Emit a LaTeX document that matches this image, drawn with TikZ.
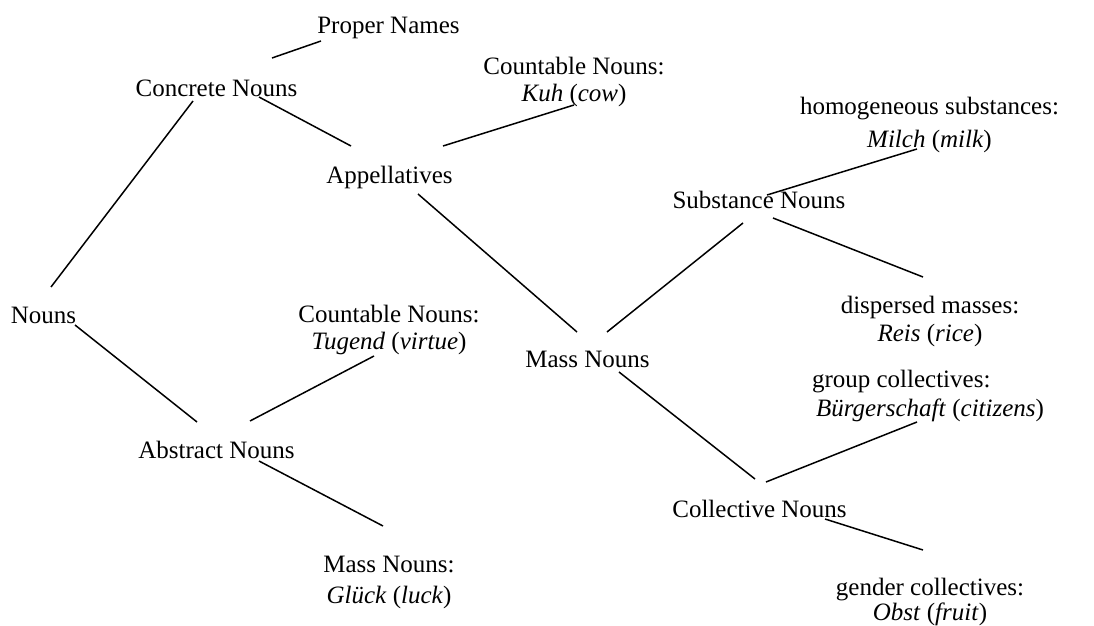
\documentclass[tikz,border=0pt]{standalone}
\usepackage{fontspec}
\setmainfont{Liberation Serif}
\begin{document}
\begin{tikzpicture}[x=0.5pt,y=-0.5pt,
  lbl/.style={anchor=base,inner sep=0pt,align=center,font=\fontsize{12.5pt}{13.5pt}\selectfont},
  conn/.style={line width=0.75pt,black}]
\useasboundingbox (0,0) rectangle (1094,626);
% nodes (multi-line labels are placed at the baseline of their last line)
\node[lbl] (proper) at (388.5,34) {Proper Names};
\node[lbl] (concrete) at (216.5,97) {Concrete Nouns};
\node[lbl] (appell) at (389.5,184) {Appellatives};
\node[lbl] (kuh) at (574,101.5) {Countable Nouns:\\ \textit{Kuh} (\textit{cow})};
\node[lbl] (milch) at (929.5,147.3) {homogeneous substances:\\[3pt] \textit{Milch} (\textit{milk})};
\node[lbl] (subst) at (759,209) {Substance Nouns};
\node[lbl] (nouns) at (43.5,323) {Nouns};
\node[lbl] (tugend) at (389,350) {Countable Nouns:\\ \textit{Tugend} (\textit{virtue})};
\node[lbl] (mass) at (587.5,367) {Mass Nouns};
\node[lbl] (reis) at (930,341.5) {dispersed masses:\\[0.5pt] \textit{Reis} (\textit{rice})};
\node[lbl,align=left] (buerger) at (928,416.7) {group collectives:\\[1pt] \hspace{2pt}\textit{Bürgerschaft} (\textit{citizens})};
\node[lbl] (abstract) at (216.5,458) {Abstract Nouns};
\node[lbl] (glueck) at (389,603) {Mass Nouns:\\[2pt] \textit{Glück} (\textit{luck})};
\node[lbl] (collective) at (759.5,517) {Collective Nouns};
\node[lbl] (obst) at (930,620) {gender collectives:\\[-1pt] \textit{Obst} (\textit{fruit})};
% connector end points
\coordinate (proper-a) at (321,41);   \coordinate (concrete-a) at (272,58);
\coordinate (concrete-b) at (193,101); \coordinate (nouns-a) at (51,287);
\coordinate (concrete-c) at (259,97);  \coordinate (appell-a) at (351,146);
\coordinate (appell-b) at (443,146);   \coordinate (kuh-a) at (574,105);
\coordinate (appell-c) at (418,194);   \coordinate (mass-a) at (577,332);
\coordinate (subst-a) at (767,195);    \coordinate (milch-a) at (917,149);
\coordinate (subst-b) at (743,223);    \coordinate (mass-b) at (607,332);
\coordinate (subst-c) at (773,218);    \coordinate (reis-a) at (923,277);
\coordinate (nouns-b) at (75,325);     \coordinate (abstract-a) at (197,422);
\coordinate (abstract-b) at (250,421); \coordinate (tugend-a) at (374,356);
\coordinate (abstract-c) at (259,461); \coordinate (glueck-a) at (383,526);
\coordinate (mass-c) at (619,372);     \coordinate (collective-a) at (755,479);
\coordinate (collective-b) at (766,482); \coordinate (buerger-a) at (917,422);
\coordinate (collective-c) at (825,519); \coordinate (obst-a) at (923,550);
% connectors
\draw[conn] (concrete-a) -- (proper-a);
\draw[conn] (concrete-b) -- (nouns-a);
\draw[conn] (concrete-c) -- (appell-a);
\draw[conn] (appell-b) -- (kuh-a);
\draw[conn] (appell-c) -- (mass-a);
\draw[conn] (subst-a) -- (milch-a);
\draw[conn] (subst-b) -- (mass-b);
\draw[conn] (subst-c) -- (reis-a);
\draw[conn] (nouns-b) -- (abstract-a);
\draw[conn] (abstract-b) -- (tugend-a);
\draw[conn] (abstract-c) -- (glueck-a);
\draw[conn] (mass-c) -- (collective-a);
\draw[conn] (collective-b) -- (buerger-a);
\draw[conn] (collective-c) -- (obst-a);
\end{tikzpicture}
\end{document}
